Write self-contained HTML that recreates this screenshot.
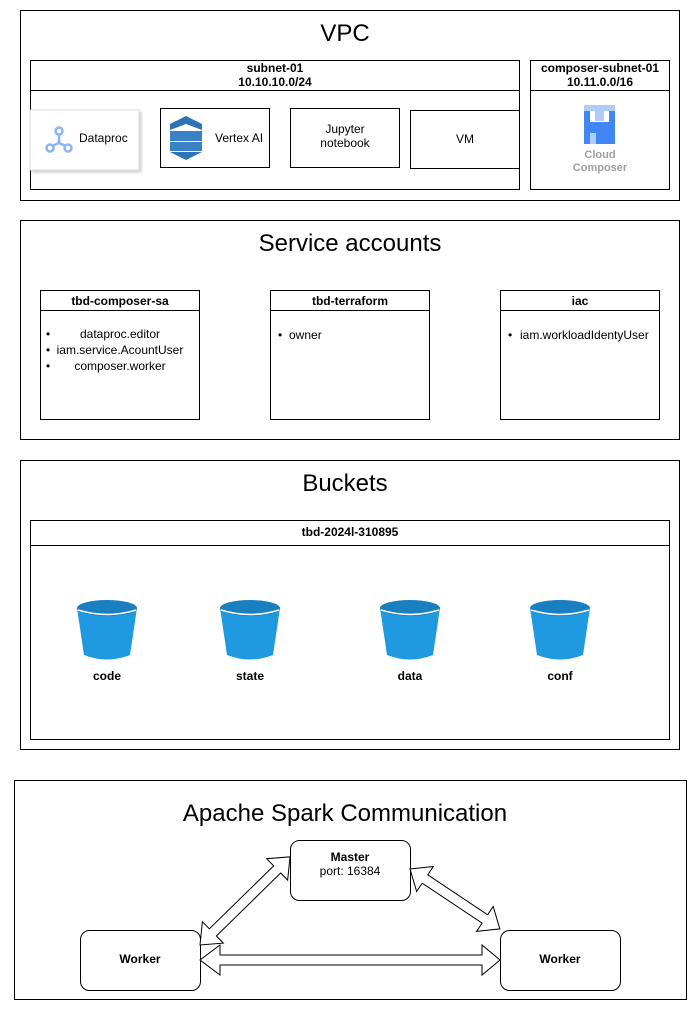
<!DOCTYPE html>
<html><head><meta charset="utf-8"><style>
html,body{margin:0;padding:0;background:#fff}
svg{display:block}
text{font-family:"Liberation Sans",Arial,sans-serif;fill:#000}
</style></head><body>
<svg width="697" height="1011" viewBox="0 0 697 1011" xmlns="http://www.w3.org/2000/svg">
<defs><filter id="sh" x="-10%" y="-10%" width="130%" height="130%"><feDropShadow dx="2" dy="2" stdDeviation="1.5" flood-color="#000" flood-opacity="0.2"/></filter>
<g id="bk">
<path d="M-30 8 L-23 55 Q0 64 23 55 L30 8 Z" fill="#1f9ae0"/>
<ellipse cx="0" cy="8" rx="30" ry="8" fill="#1a7fc0"/>
<path d="M-29 10 Q0 19 29 10" fill="none" stroke="#fff" stroke-width="1.5"/>
</g></defs>
<!-- VPC -->
<rect x="20.5" y="10.5" width="659" height="190" fill="#fff" stroke="#000"/>
<text x="345" y="41" font-size="24" text-anchor="middle">VPC</text>
<rect x="30.5" y="60.5" width="489" height="129" fill="none" stroke="#000"/>
<line x1="30" y1="90.5" x2="520" y2="90.5" stroke="#000"/>
<text x="275" y="72" font-size="12" font-weight="bold" text-anchor="middle">subnet-01</text>
<text x="275" y="86" font-size="12" font-weight="bold" text-anchor="middle">10.10.10.0/24</text>
<rect x="530.5" y="60.5" width="139" height="129" fill="none" stroke="#000"/>
<line x1="530" y1="90.5" x2="670" y2="90.5" stroke="#000"/>
<text x="600" y="72" font-size="12" font-weight="bold" text-anchor="middle">composer-subnet-01</text>
<text x="600" y="86" font-size="12" font-weight="bold" text-anchor="middle">10.11.0.0/16</text>
<rect x="30" y="110" width="109" height="60" fill="#fff" stroke="#ddd" filter="url(#sh)"/>
<g fill="none" stroke="#8ab4f8" stroke-width="2.5"><circle cx="59" cy="131" r="3.5"/><circle cx="50" cy="148" r="3.5"/><circle cx="68" cy="148" r="3.5"/><path d="M59 135 L59 143 L52 146 M59 143 L66 146"/></g>
<text x="79" y="142" font-size="12">Dataproc</text>
<rect x="160.5" y="108.5" width="109" height="59" fill="#fff" stroke="#000"/>
<g fill="#2e73b8"><polygon points="170,124 186,116 202,124 202,130 186,124 170,130"/><rect x="170" y="131" width="32" height="10" fill="#3a80c4"/><rect x="170" y="142" width="32" height="9" fill="#3a80c4"/><polygon points="170,152 202,152 186,160"/></g>
<text x="215" y="142" font-size="12">Vertex AI</text>
<rect x="290.5" y="108.5" width="109" height="59" fill="#fff" stroke="#000"/>
<text x="345" y="133" font-size="12" text-anchor="middle">Jupyter</text>
<text x="345" y="147" font-size="12" text-anchor="middle">notebook</text>
<rect x="410.5" y="110.5" width="109" height="58" fill="#fff" stroke="#000"/>
<text x="465" y="143" font-size="12" text-anchor="middle">VM</text>
<g><rect x="584" y="105" width="31" height="6" fill="#aecbfa"/><rect x="595" y="111" width="9" height="10" fill="#aecbfa"/><rect x="584" y="111" width="6" height="33" fill="#4285f4"/><rect x="609" y="111" width="6" height="33" fill="#4285f4"/><rect x="590" y="122" width="19" height="11" fill="#4285f4"/><rect x="596" y="133" width="13" height="11" fill="#4285f4"/><rect x="590" y="133" width="6" height="11" fill="#aecbfa"/></g>
<text x="600" y="158" font-size="11" font-weight="bold" text-anchor="middle" style="fill:#9e9e9e">Cloud</text>
<text x="600" y="171" font-size="11" font-weight="bold" text-anchor="middle" style="fill:#9e9e9e">Composer</text>
<!-- Service accounts -->
<rect x="20.5" y="220.5" width="659" height="219" fill="#fff" stroke="#000"/>
<text x="350" y="251" font-size="24" text-anchor="middle">Service accounts</text>
<g font-size="12">
<rect x="40.5" y="290.5" width="159" height="129" fill="none" stroke="#000"/><line x1="40" y1="310.5" x2="200" y2="310.5" stroke="#000"/>
<text x="120" y="305" font-weight="bold" text-anchor="middle">tbd-composer-sa</text>
<text x="46" y="338">•</text><text x="120" y="338" text-anchor="middle">dataproc.editor</text>
<text x="46" y="354">•</text><text x="120" y="354" text-anchor="middle">iam.service.AcountUser</text>
<text x="46" y="370">•</text><text x="120" y="370" text-anchor="middle">composer.worker</text>
<rect x="270.5" y="290.5" width="159" height="129" fill="none" stroke="#000"/><line x1="270" y1="310.5" x2="430" y2="310.5" stroke="#000"/>
<text x="350" y="305" font-weight="bold" text-anchor="middle">tbd-terraform</text>
<text x="278" y="339">•</text><text x="289" y="339">owner</text>
<rect x="500.5" y="290.5" width="159" height="129" fill="none" stroke="#000"/><line x1="500" y1="310.5" x2="660" y2="310.5" stroke="#000"/>
<text x="580" y="305" font-weight="bold" text-anchor="middle">iac</text>
<text x="508" y="339">•</text><text x="520" y="339">iam.workloadIdentyUser</text>
</g>
<!-- Buckets -->
<rect x="20.5" y="460.5" width="659" height="289" fill="#fff" stroke="#000"/>
<text x="345" y="491" font-size="24" text-anchor="middle">Buckets</text>
<rect x="30.5" y="520.5" width="639" height="219" fill="none" stroke="#000"/><line x1="30" y1="545.5" x2="670" y2="545.5" stroke="#000"/>
<text x="350" y="536" font-size="12" font-weight="bold" text-anchor="middle">tbd-2024l-310895</text>
<use href="#bk" x="107" y="600"/><use href="#bk" x="250" y="600"/><use href="#bk" x="410" y="600"/><use href="#bk" x="560" y="600"/>
<g font-size="12" font-weight="bold" text-anchor="middle"><text x="107" y="680">code</text><text x="250" y="680">state</text><text x="410" y="680">data</text><text x="560" y="680">conf</text></g>
<!-- Spark -->
<rect x="14.5" y="780.5" width="672" height="219" fill="#fff" stroke="#000"/>
<text x="345" y="821" font-size="24" text-anchor="middle">Apache Spark Communication</text>
<rect x="290.5" y="840.5" width="120" height="60" rx="9" fill="#fff" stroke="#000"/>
<text x="350" y="861" font-size="12" font-weight="bold" text-anchor="middle">Master</text>
<text x="350" y="875" font-size="12" text-anchor="middle">port: 16384</text>
<rect x="80.5" y="930.5" width="120" height="60" rx="9" fill="#fff" stroke="#000"/>
<text x="140" y="963" font-size="12" font-weight="bold" text-anchor="middle">Worker</text>
<rect x="500.5" y="930.5" width="120" height="60" rx="9" fill="#fff" stroke="#000"/>
<text x="560" y="963" font-size="12" font-weight="bold" text-anchor="middle">Worker</text>
<g fill="#fff" stroke="#000">
<polygon points="200,960 220,945 220,955 482,955 482,945 500,960 482,975 482,965 220,965 220,975"/>
<polygon transform="translate(200,945) rotate(-44.4)" points="0,0 18,-15 18,-5 108,-5 108,-15 126,0 108,15 108,5 18,5 18,15"/>
<polygon transform="translate(410,869) rotate(33.7)" points="0,0 18,-15 18,-5 90,-5 90,-15 108,0 90,15 90,5 18,5 18,15"/>
</g>
</svg>
</body></html>
